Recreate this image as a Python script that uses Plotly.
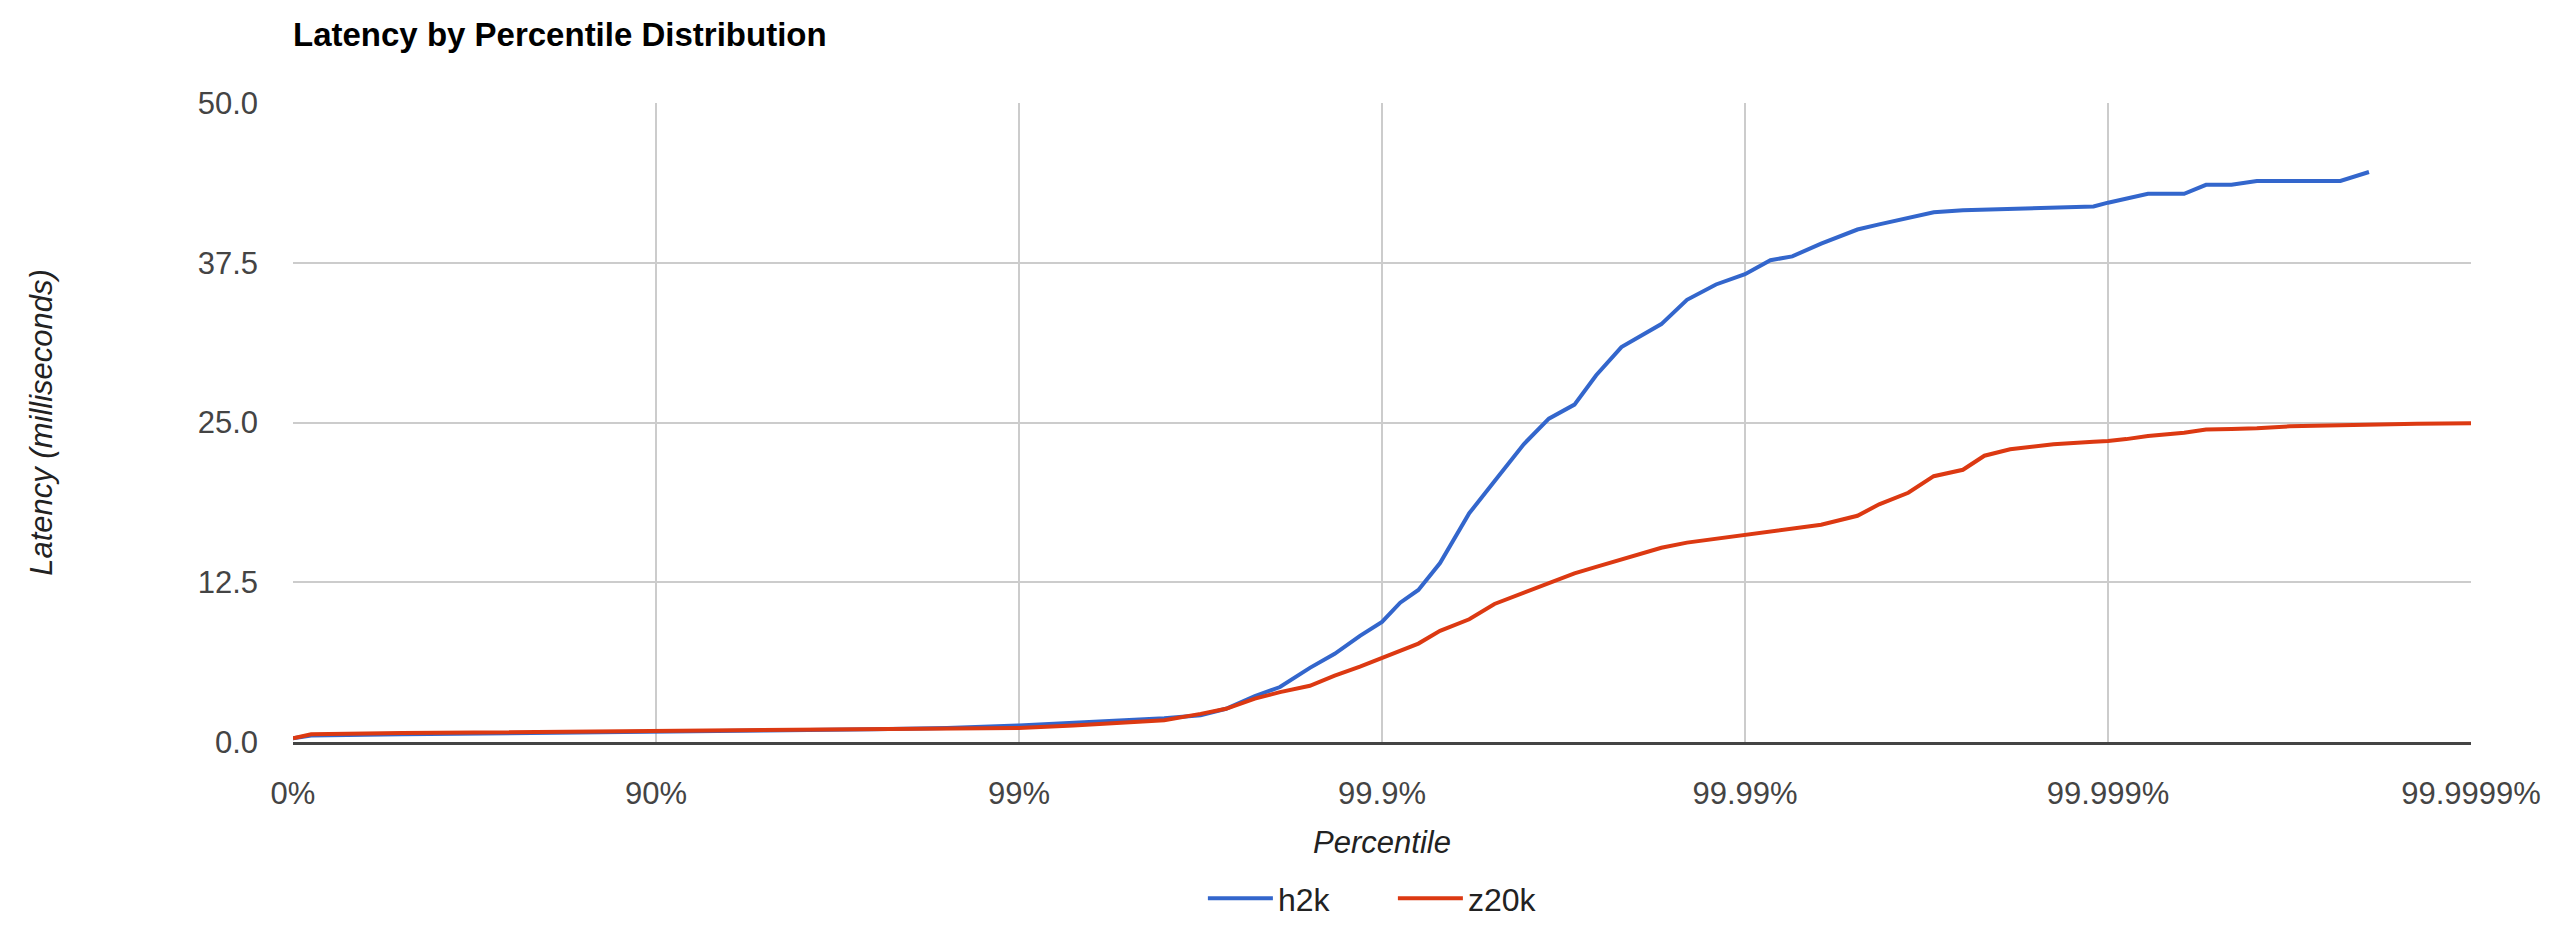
import plotly.graph_objects as go

# Percentile (in %) at each sampled point
percentiles = [
    0.0, 10.87, 49.88, 80.05, 90.0, 94.99, 97.49, 98.42, 99.0, 99.292,
    99.499, 99.602, 99.684, 99.731, 99.776, 99.809, 99.842, 99.865, 99.885, 99.9,
    99.9109, 99.9206, 99.9308, 99.9425, 99.9510, 99.9593, 99.9653, 99.9705, 99.9743, 99.9781,
    99.9830, 99.98555, 99.98798, 99.99, 99.99149, 99.99259, 99.99383, 99.99510, 99.99573, 99.99645,
    99.99698, 99.99749, 99.99781, 99.99814, 99.998587, 99.998904, 99.999, 99.999109, 99.999224, 99.999383,
    99.999463, 99.999543, 99.999611, 99.999684, 99.999771, 99.999809, 99.999859, 99.9999,
]

# Latency in milliseconds
h2k = [
    0.3, 0.5, 0.6, 0.75, 0.8, 0.9, 1.0, 1.1, 1.3, 1.5,
    1.7, 1.85, 2.1, 2.6, 3.6, 4.3, 5.8, 6.9, 8.3, 9.4,
    10.9, 11.9, 14.0, 17.9, 20.4, 23.3, 25.3, 26.4, 28.7, 30.9,
    32.7, 34.6, 35.8, 36.6, 37.7, 38.0, 39.0, 40.1, 40.5, 41.0,
    41.45, 41.6, 41.65, 41.7, 41.75, 41.9, 42.2, 42.5, 42.9, 42.9,
    43.6, 43.6, 43.9, 43.9, 43.9, 44.6, None, None,
]

z20k = [
    0.3, 0.6, 0.7, 0.8, 0.85, 0.9, 0.95, 1.0, 1.1, 1.3,
    1.5, 1.7, 2.2, 2.6, 3.4, 3.9, 4.4, 5.2, 5.9, 6.6,
    7.2, 7.7, 8.7, 9.6, 10.8, 11.7, 12.4, 13.2, 13.7, 14.3,
    15.2, 15.6, 15.9, 16.2, 16.5, 16.7, 17.0, 17.7, 18.6, 19.5,
    20.8, 21.3, 22.4, 22.9, 23.3, 23.5, 23.55, 23.7, 23.95, 24.2,
    24.45, 24.5, 24.55, 24.7, 24.8, 24.85, 24.9, 24.95,
]

tick_percentiles = [0.0, 90.0, 99.0, 99.9, 99.99, 99.999, 99.9999]
tick_labels = ["0%", "90%", "99%", "99.9%", "99.99%", "99.999%", "99.9999%"]

y_ticks = [0.0, 12.5, 25.0, 37.5, 50.0]


def to_x(p):
    # position on the percentile axis: 1 / (1 - p)
    return 100.0 / (100.0 - p)


xs = [to_x(p) for p in percentiles]
tick_x = [to_x(p) for p in tick_percentiles]

FONT = "Liberation Sans, Arial, Helvetica, sans-serif"

fig = go.Figure()
fig.add_trace(go.Scatter(
    x=xs, y=h2k, name="h2k", mode="lines",
    line=dict(color="#3366cc", width=4), connectgaps=False,
))
fig.add_trace(go.Scatter(
    x=xs, y=z20k, name="z20k", mode="lines",
    line=dict(color="#dc3912", width=4),
))

fig.update_layout(
    width=2568, height=930,
    margin=dict(l=285, r=105, t=95, b=178),
    paper_bgcolor="white", plot_bgcolor="white",
    font=dict(family=FONT, size=31, color="#444444"),
    title=dict(
        text="<b>Latency by Percentile Distribution</b>",
        font=dict(family=FONT, size=33, color="#000000"),
        xref="container", x=285 / 2568, xanchor="left",
        yref="container", y=1 - 26 / 930, yanchor="middle",
    ),
    showlegend=True,
    legend=dict(
        orientation="h", x=0.505, xanchor="center",
        y=-0.245, yanchor="middle",
        font=dict(family=FONT, size=32, color="#222222"),
        bgcolor="rgba(0,0,0,0)",
        itemwidth=65, tracegroupgap=0,
        entrywidth=110, entrywidthmode="pixels",
    ),
    xaxis=dict(
        type="log", range=[0, 6],
        tickmode="array", tickvals=tick_x, ticktext=tick_labels,
        showgrid=True, gridcolor="#cccccc", gridwidth=2,
        showline=True, linecolor="#444444", linewidth=3,
        zeroline=False, ticks="", ticklabelstandoff=22,
        tickfont=dict(size=31, color="#444444"),
        title=dict(text="<i>Percentile</i>", standoff=22,
                   font=dict(size=31, color="#222222")),
        automargin=False,
    ),
    yaxis=dict(
        range=[0, 50],
        tickmode="array", tickvals=y_ticks, tickformat=".1f",
        showgrid=True, gridcolor="#cccccc", gridwidth=2,
        showline=False, zeroline=False, ticks="",
        ticklabelstandoff=34,
        tickfont=dict(size=31, color="#444444"),
        title=dict(text="<i>Latency (milliseconds)</i>", standoff=135,
                   font=dict(size=31, color="#222222")),
        automargin=False,
    ),
)

fig.write_html("out.html")
